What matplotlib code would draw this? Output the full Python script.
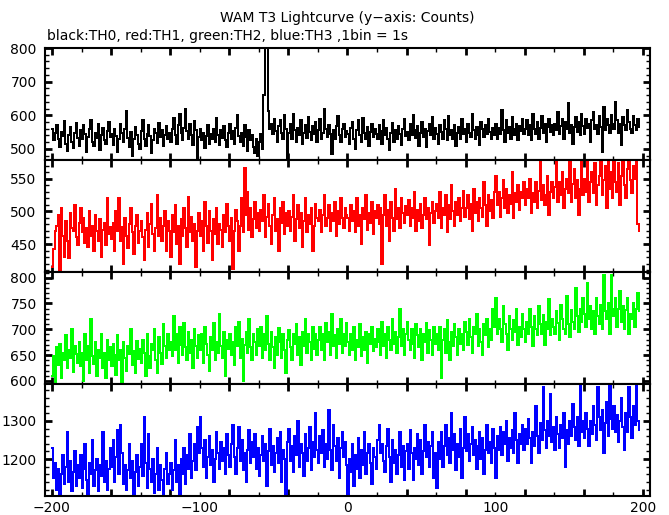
"""WAM T3 lightcurve, four energy channels stacked.
"""
import numpy as np
import matplotlib
matplotlib.use("Agg")
import matplotlib.pyplot as plt
from matplotlib.ticker import MultipleLocator


#### Data (counts per 1 s bin, first bin starts at t = -200 s).
time_start = -200
bin_width = 1

counts_th0 = [
    560, 525, 548, 572, 530, 505, 550, 538, 582, 515, 495, 540, 565, 520, 502, 547, 578, 533, 510, 555,
    528, 570, 545, 490, 535, 560, 585, 520, 508, 548, 532, 575, 498, 542, 563, 527, 515, 553, 580, 536,
    545, 512, 558, 537, 490, 530, 575, 548, 522, 560, 612, 533, 505, 550, 478, 528, 566, 541, 515, 500,
    552, 585, 530, 510, 545, 572, 538, 488, 525, 560, 548, 519, 577, 535, 555, 508, 540, 568, 530, 546,
    522, 558, 592, 540, 515, 570, 605, 548, 527, 563, 618, 552, 530, 575, 540, 512, 582, 556, 470, 535,
    560, 525, 548, 502, 538, 570, 515, 545, 530, 558, 520, 592, 540, 512, 555, 533, 568, 526, 505, 548,
    575, 530, 552, 515, 562, 600, 538, 520, 548, 510, 572, 535, 495, 555, 525, 542, 505, 488, 530, 478,
    520, 545, 500, 660, 820, 815, 612, 560, 575, 545, 590, 553, 520, 568, 585, 547, 530, 600, 558, 465,
    548, 575, 530, 603, 555, 520, 562, 540, 585, 515, 548, 570, 532, 595, 550, 525, 568, 543, 580, 520,
    555, 590, 530, 548, 620, 560, 535, 572, 545, 485, 555, 530, 568, 598, 540, 520, 560, 575, 535, 552,
    545, 515, 562, 580, 530, 500, 555, 585, 540, 520, 592, 548, 530, 565, 510, 550, 575, 535, 560, 545,
    528, 570, 553, 515, 585, 540, 562, 530, 498, 548, 577, 520, 555, 530, 568, 545, 512, 560, 590, 538,
    550, 525, 573, 540, 600, 555, 532, 568, 510, 548, 580, 535, 560, 505, 552, 575, 540, 595, 528, 562,
    545, 515, 570, 550, 530, 585, 560, 525, 598, 540, 556, 530, 572, 510, 548, 565, 530, 588, 545, 560,
    520, 575, 548, 535, 603, 555, 530, 565, 540, 512, 580, 558, 535, 570, 545, 590, 550, 528, 562, 540,
    575, 530, 562, 545, 615, 555, 520, 585, 548, 565, 530, 595, 560, 540, 575, 525, 568, 552, 590, 545,
    560, 585, 540, 570, 525, 605, 558, 545, 580, 530, 562, 598, 548, 575, 520, 565, 590, 550, 572, 540,
    575, 555, 610, 545, 568, 590, 530, 580, 560, 635, 548, 572, 515, 565, 595, 550, 580, 540, 605, 568,
    545, 590, 562, 575, 520, 585, 610, 558, 570, 545, 598, 565, 490, 625, 555, 590, 572, 548, 600, 575,
    560, 640, 585, 548, 575, 512, 595, 570, 555, 615, 580, 560, 548, 598, 570, 555, 590, 565,
]

counts_th1 = [
    415, 442, 470, 478, 495, 410, 505, 462, 430, 485, 455, 428, 498, 475, 470, 510, 460, 448, 482, 505,
    468, 490, 452, 475, 445, 500, 462, 478, 440, 495, 470, 455, 488, 430, 472, 482, 448, 520, 465, 476,
    458, 482, 440, 500, 470, 520, 455, 476, 420, 490, 462, 444, 480, 505, 468, 435, 478, 495, 452, 470,
    485, 460, 425, 472, 498, 445, 480, 512, 465, 440, 475, 525, 462, 490, 455, 478, 500, 440, 485, 470,
    430, 495, 468, 510, 450, 478, 420, 488, 462, 505, 475, 445, 522, 468, 492, 455, 480, 415, 470, 498,
    462, 485, 440, 515, 478, 452, 500, 470, 425, 488, 465, 505, 450, 480, 472, 445, 495, 468, 512, 478,
    455, 490, 412, 470, 502, 485, 440, 478, 520, 468, 567, 495, 530, 472, 505, 460, 488, 515, 475, 498,
    470, 502, 485, 525, 460, 492, 512, 478, 450, 495, 520, 470, 488, 440, 505, 482, 515, 465, 498, 478,
    500, 470, 492, 525, 455, 488, 510, 475, 498, 445, 485, 520, 468, 495, 480, 505, 440, 478, 512, 490,
    485, 502, 468, 495, 525, 478, 490, 510, 470, 498, 485, 515, 462, 500, 480, 520, 490, 475, 505, 495,
    490, 470, 510, 485, 500, 468, 520, 478, 495, 450, 505, 488, 525, 472, 498, 482, 515, 465, 500, 490,
    510, 480, 505, 420, 495, 525, 478, 502, 455, 515, 490, 470, 535, 488, 505, 475, 520, 498, 482, 508,
    495, 518, 478, 505, 490, 530, 470, 502, 485, 512, 475, 495, 520, 488, 505, 448, 498, 515, 482, 500,
    512, 490, 530, 475, 505, 495, 525, 468, 510, 488, 540, 500, 478, 515, 495, 520, 485, 505, 532, 492,
    505, 525, 488, 512, 470, 535, 498, 515, 485, 520, 505, 492, 545, 510, 478, 525, 500, 518, 490, 530,
    555, 510, 530, 492, 520, 548, 505, 535, 498, 525, 512, 560, 490, 528, 515, 540, 502, 530, 520, 545,
    510, 535, 520, 550, 498, 528, 515, 545, 505, 532, 580, 518, 540, 510, 525, 555, 495, 530, 545, 520,
    538, 580, 515, 545, 525, 560, 505, 535, 550, 528, 580, 515, 542, 565, 520, 548, 495, 535, 580, 525,
    550, 530, 580, 515, 545, 560, 528, 575, 510, 540, 555, 580, 525, 548, 570, 505, 580, 535, 560, 520,
    580, 545, 530, 575, 510, 555, 580, 540, 520, 565, 580, 548, 528, 570, 550, 580, 480, 470,
]

counts_th2 = [
    610, 648, 595, 665, 630, 672, 605, 655, 640, 688, 625, 660, 645, 700, 618, 668, 652, 635, 675, 628,
    655, 600, 690, 640, 668, 615, 720, 648, 632, 675, 610, 660, 645, 690, 625, 655, 605, 680, 640, 665,
    628, 672, 650, 612, 688, 640, 660, 595, 675, 645, 620, 668, 652, 700, 630, 658, 615, 678, 642, 662,
    635, 680, 655, 610, 690, 648, 625, 672, 660, 700, 640, 615, 685, 655, 632, 710, 668, 645, 690, 660,
    675, 648, 725, 660, 690, 635, 705, 670, 650, 712, 665, 640, 695, 655, 680, 625, 700, 668, 645, 688,
    660, 690, 635, 705, 672, 650, 620, 685, 660, 712, 640, 675, 655, 730, 668, 645, 695, 610, 680, 662,
    690, 650, 675, 630, 705, 668, 715, 645, 682, 600, 670, 695, 655, 720, 665, 640, 690, 675, 650, 700,
    668, 705, 645, 690, 660, 725, 672, 640, 695, 665, 625, 685, 650, 702, 675, 645, 690, 660, 615, 680,
    698, 665, 640, 690, 672, 710, 650, 685, 630, 695, 668, 720, 655, 690, 675, 640, 705, 662, 690, 650,
    680, 705, 660, 690, 640, 712, 675, 695, 650, 730, 668, 688, 645, 700, 672, 720, 655, 690, 668, 712,
    675, 650, 690, 660, 705, 640, 680, 665, 710, 648, 685, 660, 695, 635, 690, 672, 705, 658, 682, 665,
    700, 675, 650, 715, 668, 690, 645, 705, 680, 660, 720, 672, 695, 655, 685, 740, 668, 700, 650, 690,
    715, 680, 660, 700, 672, 645, 710, 688, 665, 700, 640, 690, 675, 712, 655, 698, 680, 650, 705, 672,
    690, 660, 705, 605, 680, 700, 655, 718, 675, 640, 695, 668, 710, 685, 650, 700, 672, 690, 660, 715,
    695, 670, 720, 685, 655, 705, 690, 730, 668, 700, 675, 650, 710, 688, 720, 665, 700, 680, 740, 705,
    760, 690, 720, 700, 675, 745, 710, 690, 660, 725, 700, 680, 718, 695, 740, 670, 705, 685, 730, 700,
    675, 715, 690, 740, 705, 668, 725, 700, 688, 745, 710, 690, 728, 670, 715, 700, 758, 688, 720, 705,
    690, 735, 712, 680, 748, 720, 700, 690, 765, 710, 685, 738, 715, 700, 780, 725, 695, 740, 715, 760,
    730, 705, 790, 720, 745, 700, 735, 690, 760, 725, 710, 748, 700, 805, 735, 720, 750, 690, 805, 740,
    725, 760, 705, 740, 775, 715, 745, 700, 738, 760, 690, 730, 720, 750, 705, 740, 770, 735,
]

counts_th3 = [
    1230, 1150, 1190, 1120, 1175, 1105, 1160, 1210, 1135, 1180, 1270, 1140, 1195, 1115, 1165, 1220, 1130, 1185, 1150, 1210,
    1125, 1175, 1240, 1145, 1105, 1190, 1160, 1250, 1130, 1170, 1200, 1115, 1185, 1155, 1270, 1140, 1195, 1120, 1175, 1230,
    1180, 1250, 1140, 1205, 1275, 1160, 1290, 1215, 1135, 1185, 1120, 1170, 1240, 1150, 1195, 1105, 1165, 1210, 1130, 1180,
    1240, 1155, 1310, 1190, 1125, 1265, 1175, 1140, 1200, 1110, 1160, 1230, 1120, 1185, 1145, 1105, 1175, 1215, 1135, 1160,
    1190, 1120, 1170, 1250, 1140, 1185, 1105, 1200, 1160, 1230, 1135, 1210, 1175, 1265, 1150, 1195, 1240, 1170, 1285, 1215,
    1310, 1230, 1180, 1250, 1150, 1205, 1260, 1185, 1225, 1140, 1200, 1270, 1215, 1175, 1245, 1195, 1230, 1160, 1265, 1210,
    1180, 1240, 1290, 1205, 1160, 1230, 1285, 1195, 1250, 1170, 1215, 1140, 1225, 1275, 1190, 1245, 1205, 1265, 1175, 1230,
    1155, 1210, 1260, 1195, 1240, 1130, 1220, 1280, 1185, 1235, 1165, 1215, 1255, 1190, 1270, 1140, 1225, 1200, 1105, 1245,
    1280, 1195, 1235, 1165, 1260, 1210, 1300, 1180, 1240, 1215, 1155, 1265, 1195, 1230, 1285, 1170, 1245, 1205, 1320, 1225,
    1190, 1260, 1215, 1275, 1180, 1240, 1200, 1330, 1225, 1170, 1290, 1235, 1195, 1255, 1150, 1230, 1270, 1205, 1245, 1185,
    1105, 1200, 1165, 1240, 1130, 1210, 1175, 1255, 1150, 1225, 1185, 1270, 1160, 1215, 1240, 1190, 1135, 1230, 1205, 1175,
    1250, 1290, 1215, 1240, 1195, 1165, 1235, 1280, 1205, 1140, 1250, 1190, 1225, 1160, 1210, 1270, 1180, 1235, 1145, 1220,
    1240, 1175, 1275, 1215, 1145, 1230, 1200, 1265, 1185, 1250, 1160, 1220, 1290, 1205, 1245, 1180, 1235, 1270, 1150, 1215,
    1125, 1245, 1200, 1270, 1180, 1235, 1290, 1210, 1255, 1190, 1320, 1225, 1265, 1170, 1240, 1205, 1280, 1150, 1230, 1310,
    1220, 1265, 1195, 1240, 1285, 1210, 1250, 1175, 1235, 1270, 1200, 1255, 1160, 1225, 1290, 1215, 1245, 1190, 1280, 1230,
    1150, 1260, 1225, 1285, 1210, 1270, 1240, 1300, 1195, 1255, 1230, 1275, 1215, 1320, 1250, 1190, 1265, 1240, 1290, 1225,
    1280, 1240, 1305, 1255, 1190, 1270, 1235, 1340, 1260, 1215, 1295, 1250, 1390, 1275, 1230, 1300, 1260, 1370, 1245, 1285,
    1225, 1310, 1265, 1230, 1290, 1255, 1320, 1180, 1275, 1240, 1300, 1260, 1345, 1285, 1250, 1310, 1235, 1395, 1270, 1300,
    1255, 1320, 1280, 1235, 1300, 1265, 1340, 1290, 1250, 1390, 1310, 1275, 1330, 1215, 1295, 1350, 1260, 1395, 1305, 1280,
    1340, 1270, 1315, 1245, 1300, 1360, 1285, 1225, 1320, 1270, 1390, 1310, 1255, 1340, 1290, 1395, 1300, 1275,
]

channels = [counts_th0, counts_th1, counts_th2, counts_th3]
colors = ["black", "#ff0000", "#00ff00", "#0000ff"]
ylims = [(467, 800), (407, 579), (594, 811), (1103, 1397)]
ymajor = [100, 50, 50, 100]
yminor = [20, 10, 10, 20]
xlabel_vals = [-200, -100, 0, 100, 200]

title = "WAM T3 Lightcurve (y\u2212axis: Counts)"
subtitle = "black:TH0, red:TH1, green:TH2, blue:TH3 ,1bin = 1s"

#### Parameters.
W, H, DPI = 669, 515, 100
XLIM = (-204.7, 204.7)
FONT = 10

plt.rcParams["font.family"] = ["DejaVu Sans"]

fig = plt.figure(figsize=(W / DPI, H / DPI), dpi=DPI)
gs = fig.add_gridspec(4, 1, left=45 / W, right=650 / W,
    top=1 - 48 / H, bottom=1 - 496 / H, hspace=0)

axes = []
for i, (counts, color) in enumerate(zip(channels, colors)):
    ax = fig.add_subplot(gs[i])
    t = time_start + bin_width * np.arange(len(counts))
    ax.step(t, counts, where="post", color=color, linewidth=1.3, antialiased=False)

    ax.set_xlim(*XLIM)
    ax.set_ylim(*ylims[i])
    ax.xaxis.set_major_locator(MultipleLocator(40))
    ax.xaxis.set_minor_locator(MultipleLocator(20))
    ax.yaxis.set_major_locator(MultipleLocator(ymajor[i]))
    ax.yaxis.set_minor_locator(MultipleLocator(yminor[i]))
    ax.tick_params(axis="both", which="both", direction="in",
        top=True, right=True, labelbottom=False, labelsize=FONT, pad=6)
    ax.tick_params(axis="both", which="major", length=5, width=2)
    ax.tick_params(axis="both", which="minor", length=3, width=1)
    for sp in ax.spines.values():
        sp.set_linewidth(1.5)
    axes.append(ax)

# x labels on the bottom panel only (PGPLOT labels every 100, ticks every 40)
for v in xlabel_vals:
    axes[-1].text(v, -0.045, f"{v}".replace("-", "\u2212"), ha="center", va="top",
        fontsize=FONT, transform=axes[-1].get_xaxis_transform())

fig.text(0.5 * (45 + 650) / W, 1 - 18 / H, title, ha="center", va="center", fontsize=FONT)
fig.text(47 / W, 1 - 36 / H, subtitle, ha="left", va="center", fontsize=FONT)

#### Export
fig.savefig("out.png", dpi=DPI)
plt.close(fig)
